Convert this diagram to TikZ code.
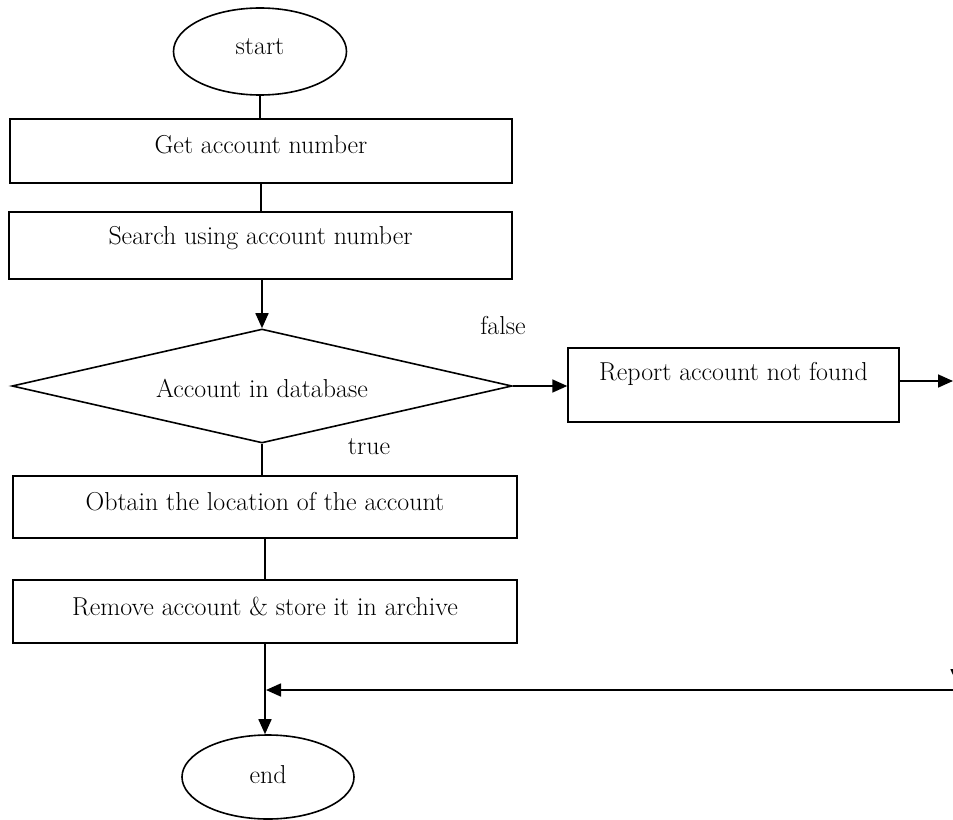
\documentclass[tikz,border=0pt]{standalone}
\usetikzlibrary{shapes.geometric,arrows.meta}

\begin{document}
\begin{tikzpicture}[x=1bp,y=-1bp,
  every node/.style={font=\fontsize{26}{30}\selectfont},
  box/.style={draw,line width=1.4bp,inner sep=0pt},
  term/.style={draw,ellipse,line width=1.6bp,inner sep=0pt},
  decision/.style={draw,diamond,line width=1.6bp,inner sep=0pt,aspect=4.4},
  txt/.style={inner sep=0pt,anchor=center},
  flow/.style={line width=1.7bp},
  flowarrow/.style={line width=1.7bp,-{Triangle[length=15bp,width=13bp]}}]

\useasboundingbox (0,0) rectangle (953,820);
\clip (0,0) rectangle (953,820);

% terminals
\node[term,minimum width=173bp,minimum height=87bp] (start) at (260,51.5) {};
\node[txt] (starttxt) at (260,47) {start};
\node[term,minimum width=172bp,minimum height=84bp] (stop) at (268,777) {};
\node[txt] (stoptxt) at (268,775) {end};

% process boxes
\node[box,minimum width=502bp,minimum height=64bp] (b1) at (261,151) {};
\node[txt] (b1txt) at (261,145) {Get account number};
\node[box,minimum width=503bp,minimum height=67bp] (b2) at (260.5,245.5) {};
\node[txt] (b2txt) at (260.5,238) {Search using account number};
\node[box,minimum width=504bp,minimum height=62bp] (b3) at (265,507) {};
\node[txt] (b3txt) at (265,502) {Obtain the location of the account};
\node[box,minimum width=504bp,minimum height=63bp] (b4) at (265,611.5) {};
\node[txt] (b4txt) at (265,607) {Remove account \& store it in archive};
\node[box,minimum width=331bp,minimum height=74bp] (rep) at (733.5,385) {};
\node[txt] (reptxt) at (733.5,374) {Report account not found};

% decision
\node[decision,minimum width=500bp,minimum height=114bp] (dia) at (262,386) {};
\node[txt] (diatxt) at (262,388) {Account in database};

% branch labels
\node[txt] (lfalse) at (503,326) {false};
\node[txt] (ltrue) at (369,447) {true};

% return path coordinates at the right edge
\coordinate (r1) at (953,381);
\coordinate (r2) at (957,560);
\coordinate (r3) at (957,684);
\coordinate (r4) at (953,690);
\coordinate (j) at (266,690);

% connectors
\draw[flow] (start.south) -- (start.south |- b1.north);
\draw[flow] (b1.south) -- (b1.south |- b2.north);
\draw[flowarrow] (dia.north |- b2.south) -- (dia.north);
\draw[flow] (dia.south) -- (dia.south |- b3.north);
\draw[flow] (b3.south) -- (b4.north);
\draw[flowarrow] (b4.south) -- (b4.south |- stop.north);
\draw[flowarrow] (dia.east) -- (rep.west |- dia.east);
\draw[flowarrow] (rep.east |- r1) -- (r1);
\draw[flowarrow] (r2) -- (r3);
\draw[flowarrow] (r4) -- (j);
\end{tikzpicture}
\end{document}
